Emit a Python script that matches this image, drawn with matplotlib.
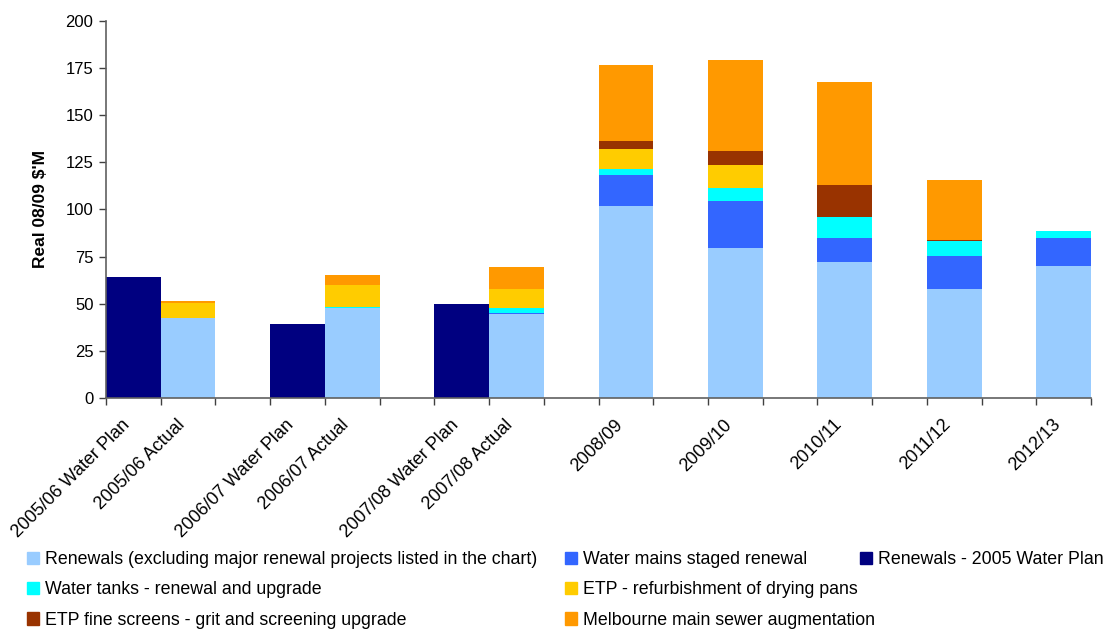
import matplotlib
matplotlib.use("Agg")
import matplotlib.pyplot as plt
import matplotlib.transforms as mtransforms
from matplotlib.patches import Patch
import numpy as np

plt.rcParams['font.family'] = ['Liberation Sans', 'DejaVu Sans']

# Category axis (blank entries are spacer slots, as in the original spreadsheet chart)
categories = ["2005/06 Water Plan", "2005/06 Actual", "",
              "2006/07 Water Plan", "2006/07 Actual", "",
              "2007/08 Water Plan", "2007/08 Actual", "",
              "2008/09", "", "2009/10", "", "2010/11", "", "2011/12", "", "2012/13"]

# Real 08/09 $'M
plan_2005 = [64, 0, 0, 39.2, 0, 0, 50, 0, 0, 0, 0, 0, 0, 0, 0, 0, 0, 0]
renewals = [0, 42.5, 0, 0, 47.8, 0, 0, 44.5, 0, 102, 0, 79.5, 0, 72, 0, 58, 0, 70]
water_mains = [0, 0, 0, 0, 0, 0, 0, 0.5, 0, 16, 0, 25, 0, 13, 0, 17.5, 0, 15]
water_tanks = [0, 0, 0, 0, 0.4, 0, 0, 2.7, 0, 3.2, 0, 7, 0, 11, 0, 7.5, 0, 3.6]
etp_pans = [0, 8, 0, 0, 11.5, 0, 0, 10, 0, 11, 0, 12, 0, 0, 0, 0, 0, 0]
etp_screens = [0, 0, 0, 0, 0, 0, 0, 0, 0, 3.8, 0, 7.5, 0, 17, 0, 1, 0, 0]
sewer = [0, 1, 0, 0, 5.4, 0, 0, 11.8, 0, 40.7, 0, 48, 0, 54.5, 0, 31.7, 0, 0]

stack_names = ["Renewals (excluding major renewal projects listed in the chart)",
               "Water mains staged renewal",
               "Water tanks - renewal and upgrade",
               "ETP - refurbishment of drying pans",
               "ETP fine screens - grit and screening upgrade",
               "Melbourne main sewer augmentation"]
stack_values = [renewals, water_mains, water_tanks, etp_pans, etp_screens, sewer]
stack_colors = ['#99CCFF', '#3366FF', '#00FFFF', '#FFCC00', '#993300', '#FF9900']
plan_name = "Renewals - 2005 Water Plan"
plan_color = '#000080'

fig = plt.figure(figsize=(11.1, 6.33), dpi=100)
ax = fig.add_axes([106 / 1110, 1 - 398 / 633, (1091 - 106) / 1110, (398 - 20.7) / 633])

x = np.arange(len(categories)) + 0.5
ax.bar(x, plan_2005, width=1.0, color=plan_color, linewidth=0)
bottom = np.zeros(len(categories))
for vals, col in zip(stack_values, stack_colors):
    ax.bar(x, vals, width=1.0, bottom=bottom, color=col, linewidth=0)
    bottom += np.array(vals)

ax.set_xlim(0, len(categories))
ax.set_ylim(0, 200)
ax.set_yticks(np.arange(0, 201, 25))
ax.tick_params(axis='y', labelsize=12, length=5, width=1, color='#404040', pad=4)

# ticks on category boundaries, labels at category centres
ax.set_xticks(np.arange(len(categories) + 1))
ax.set_xticklabels([])
ax.set_xticks(x, minor=True)
ax.set_xticklabels(categories, minor=True, rotation=45, ha='right',
                   rotation_mode='anchor', fontsize=13)
ax.tick_params(axis='x', which='major', length=5, width=1, color='#404040')
ax.tick_params(axis='x', which='minor', length=0, pad=13)
shift = mtransforms.ScaledTranslation(-12 / 100, 0, fig.dpi_scale_trans)
for lbl in ax.get_xticklabels(minor=True):
    lbl.set_transform(lbl.get_transform() + shift)

for side in ['top', 'right']:
    ax.spines[side].set_visible(False)
for side in ['left', 'bottom']:
    ax.spines[side].set_color('#606060')
    ax.spines[side].set_linewidth(1.2)

ax.set_ylabel("Real 08/09 $'M", fontsize=12.5, fontweight='bold', labelpad=13)

# legend laid out in three columns like the original
leg_kw = dict(loc='upper left', frameon=False, fontsize=12.8, handlelength=0.68,
              handleheight=0.68, handletextpad=0.35, labelspacing=0.75,
              borderpad=0, borderaxespad=0)
col1 = [0, 2, 4]
col2 = [1, 3, 5]
top = 1 - 551 / 633
fig.legend([Patch(color=stack_colors[i]) for i in col1], [stack_names[i] for i in col1],
           bbox_to_anchor=(27 / 1110, top), **leg_kw)
fig.legend([Patch(color=stack_colors[i]) for i in col2], [stack_names[i] for i in col2],
           bbox_to_anchor=(565 / 1110, top), **leg_kw)
fig.legend([Patch(color=plan_color)], [plan_name],
           bbox_to_anchor=(860 / 1110, top), **leg_kw)

fig.savefig('out.png', dpi=100)
